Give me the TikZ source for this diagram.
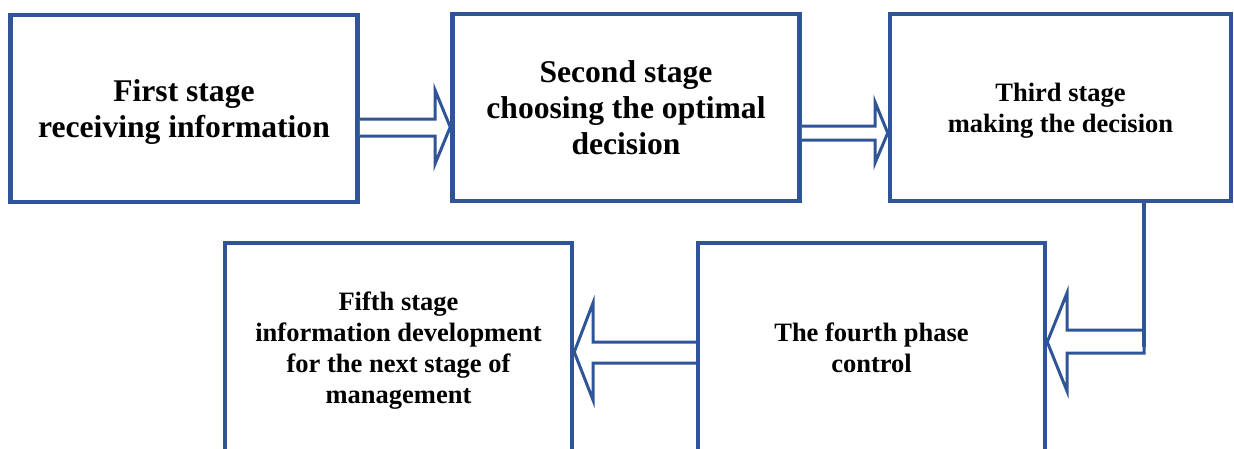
\documentclass[tikz,border=0pt]{standalone}
\usepackage{fontspec}
\setmainfont{Liberation Serif}
\usepackage{xcolor}
\definecolor{stageblue}{RGB}{47,85,151}
\usepackage{tikz}

\begin{document}
\begin{tikzpicture}[x=1pt,y=-1pt,stg/.style n args={2}{draw=stageblue,line width=4.5pt,minimum width=#1,minimum height=#2,align=center,inner sep=0pt,text depth=0pt,font=\bfseries\fontsize{26.5}{31}\selectfont},big/.style={font=\bfseries\fontsize{31.6}{36}\selectfont},barr/.style={draw=stageblue,line width=3pt,fill=white,line join=miter}]
\clip (0,0) rectangle (1234,448);
\node[stg={347pt}{187pt},big] (first) at (184,108.5) {First stage\\receiving information};
\node[stg={347pt}{187pt},big] (second) at (626,107.5) {Second stage\\choosing the optimal\\decision};
\node[stg={341pt}{187pt}] (third) at (1060.5,107.5) {Third stage\\making the decision};
\node[stg={347pt}{209pt}] (fourth) at (871.5,347.5) {The fourth phase\\control};
\node[stg={347pt}{209pt}] (fifth) at (398.5,347.5) {Fifth stage\\information development\\for the next stage of\\management};
\coordinate (drop) at (1144,347);
\draw[barr] (first.east |- 0,119) -- (435,119) -- (435,90) -- (second.west |- 0,127)
   -- (435,164) -- (435,136) -- (first.east |- 0,136);
\draw[barr] (second.east |- 0,126) -- (875,126) -- (875,102) -- (third.west |- 0,133)
   -- (875,163) -- (875,140) -- (second.east |- 0,140);
\draw[barr] (drop |- 0,330) -- (1067,330) -- (1067,293) -- (fourth.east |- 0,342)
   -- (1067,391) -- (1067,353) -- (drop |- 0,353) -- cycle;
\draw[stageblue,line width=4.5pt] (third.south -| drop) -- (drop);
\draw[barr] (fourth.west |- 0,342) -- (593,342) -- (593,303) -- (fifth.east |- 0,352)
   -- (593,400) -- (593,363) -- (fourth.west |- 0,363);
\end{tikzpicture}
\end{document}
